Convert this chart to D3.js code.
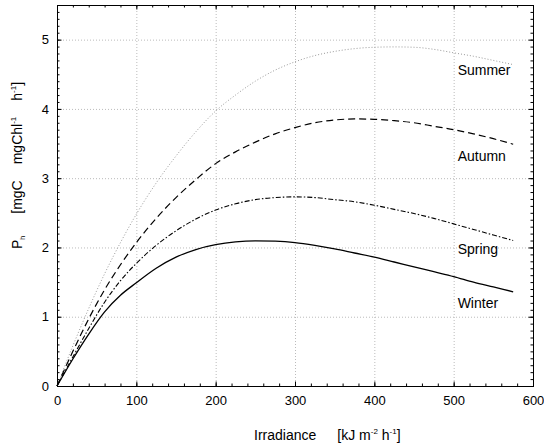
<!DOCTYPE html>
<meta charset="utf-8">
<html>
  <head>
  <title>P-I curves</title>
    <style>
      body {
        margin: 0;
        background: #fff;
        font-family: 'Liberation Sans', Arial, sans-serif;
      }
      .tick text {
        font-size: 13px;
        fill: #000;
      }
      .grid line {
        stroke: #bbb;
        stroke-dasharray: 1,2;
      }
      .season {
        font-size: 14px;
        fill: #000;
      }
      .title {
        font-size: 14px;
        fill: #000;
      }
    </style>
  </head>
  <body>
<div id="chart"></div>

<script src="https://cdn.jsdelivr.net/npm/d3@7"></script>
<script>

// irradiance (kJ m-2 h-1) where the curves were read
var irradiance = [0, 20, 40, 60, 80, 100, 125, 150, 175, 200, 225, 250, 275, 300,
                  325, 350, 375, 400, 425, 450, 475, 500, 525, 550, 575];

var winter = [0, 0.39, 0.75, 1.07, 1.31, 1.49, 1.70, 1.86, 1.97, 2.04, 2.08, 2.095, 2.09, 2.07,
              2.03, 1.98, 1.92, 1.86, 1.79, 1.72, 1.65, 1.58, 1.50, 1.43, 1.36];
var spring = [0, 0.42, 0.83, 1.21, 1.52, 1.77, 2.03, 2.24, 2.41, 2.54, 2.63, 2.69, 2.72, 2.73,
              2.72, 2.69, 2.66, 2.61, 2.55, 2.49, 2.42, 2.34, 2.26, 2.18, 2.10];
var autumn = [0, 0.50, 0.97, 1.39, 1.75, 2.07, 2.42, 2.72, 2.98, 3.21, 3.38, 3.52, 3.64, 3.73,
              3.80, 3.84, 3.855, 3.85, 3.83, 3.80, 3.75, 3.70, 3.64, 3.57, 3.49];
var summer = [0, 0.58, 1.12, 1.62, 2.07, 2.48, 2.93, 3.32, 3.67, 3.97, 4.20, 4.40, 4.56, 4.68,
              4.77, 4.83, 4.87, 4.89, 4.895, 4.89, 4.86, 4.81, 4.76, 4.70, 4.64];

var seasons = ["Summer", "Autumn", "Spring", "Winter"];

var xTicks = [0, 100, 200, 300, 400, 500, 600];
var yTicks = [0, 1, 2, 3, 4, 5];

var width = 544;
var height = 448;
var margin = {top: 5, right: 11, bottom: 62, left: 57};

var svg = d3.select("#chart")
  .append("svg")
    .attr("width", width)
    .attr("height", height);

var x = d3.scaleLinear().domain([0, 600]).range([margin.left, width - margin.right]);
var y = d3.scaleLinear().domain([0, 5.5]).range([height - margin.bottom, margin.top]);

// dotted grid at the major ticks
svg.append("g").attr("class", "grid")
  .selectAll("line")
  .data(xTicks.slice(1, -1)).enter()
  .append("line")
    .attr("x1", function(d) { return x(d) + 0.5; })
    .attr("x2", function(d) { return x(d) + 0.5; })
    .attr("y1", y(5.5))
    .attr("y2", y(0));

svg.append("g").attr("class", "grid")
  .selectAll("line")
  .data(yTicks.slice(1)).enter()
  .append("line")
    .attr("y1", function(d) { return y(d) + 0.5; })
    .attr("y2", function(d) { return y(d) + 0.5; })
    .attr("x1", x(0))
    .attr("x2", x(600));

// axes with inward ticks on all four sides
var xMinor = d3.range(0, 601, 20);
var yMinor = d3.range(0, 55).map(function(d) { return d / 10; });

function axisPair(axisFn, scale, major, minor, tr, labels) {
  svg.append("g")
    .attr("transform", tr)
    .call(axisFn(scale).tickValues(minor).tickSize(-2.5).tickFormat(""))
    .call(function(g) { g.select(".domain").remove(); });
  var g = svg.append("g")
    .attr("transform", tr)
    .call(axisFn(scale).tickValues(major).tickSize(-4.5)
      .tickFormat(labels ? d3.format("d") : ""));
  g.select(".domain").remove();
  return g;
}

var gx = axisPair(d3.axisBottom, x, xTicks, xMinor, "translate(0," + y(0) + ")", true);
gx.selectAll("text").attr("y", 19).attr("dy", null);
axisPair(d3.axisTop, x, xTicks, xMinor, "translate(0," + y(5.5) + ")", false);
var gy = axisPair(d3.axisLeft, y, yTicks, yMinor, "translate(" + x(0) + ",0)", true);
gy.selectAll("text").attr("x", -8);
axisPair(d3.axisRight, y, yTicks, yMinor, "translate(" + x(600) + ",0)", false);

svg.selectAll(".tick line").attr("stroke", "#000");
svg.selectAll(".tick text").style("font-family", "'Liberation Sans', Arial, sans-serif").style("font-size", "13px");

// frame
svg.append("rect")
  .attr("x", x(0) + 0.5)
  .attr("y", y(5.5) + 0.5)
  .attr("width", x(600) - x(0))
  .attr("height", y(0) - y(5.5))
  .style("fill", "none")
  .style("stroke", "#000")
  .style("stroke-width", 1);

// curves
var line = d3.line()
  .x(function(d, i) { return x(irradiance[i]); })
  .y(function(d) { return y(d); })
  .curve(d3.curveMonotoneX);

var styles = [
  {data: summer, stroke: "#999", width: 1, dash: "1,2"},
  {data: autumn, stroke: "#000", width: 1.2, dash: "7,4"},
  {data: spring, stroke: "#000", width: 1.1, dash: "5,2,1.5,2"},
  {data: winter, stroke: "#000", width: 1.3, dash: null}
];

svg.selectAll(".curve")
  .data(styles).enter()
  .append("path")
    .attr("class", "curve")
    .attr("d", function(d) { return line(d.data); })
    .style("fill", "none")
    .style("stroke", function(d) { return d.stroke; })
    .style("stroke-width", function(d) { return d.width; })
    .style("stroke-dasharray", function(d) { return d.dash; });

// season labels, placed by data coordinates
var labelY = [4.49, 3.25, 1.91, 1.12];
svg.selectAll(".season")
  .data(seasons).enter()
  .append("text")
    .attr("class", "season")
    .attr("x", x(505))
    .attr("y", function(d, i) { return y(labelY[i]); })
    .text(function(d) { return d; });

// x axis title
var xt = svg.append("text")
  .attr("class", "title")
  .attr("x", 254)
  .attr("y", 440);
xt.append("tspan").text("Irradiance");
xt.append("tspan").attr("dx", 21).text("[kJ m");
xt.append("tspan").attr("dy", -6).style("font-size", "8px").text("-2");
xt.append("tspan").attr("dy", 6).text(" h");
xt.append("tspan").attr("dy", -6).style("font-size", "8px").text("-1");
xt.append("tspan").attr("dy", 6).text("]");

// y axis title
var yt = svg.append("text")
  .attr("class", "title")
  .attr("transform", "translate(22,249) rotate(-90)");
yt.append("tspan").text("P");
yt.append("tspan").attr("dy", 3).style("font-size", "7px").text("h");
yt.append("tspan").attr("dy", -3).attr("dx", 22).text("[mgC");
yt.append("tspan").attr("dx", 16).text("mgChl");
yt.append("tspan").attr("dy", -6).style("font-size", "8px").text("-1");
yt.append("tspan").attr("dy", 6).attr("dx", 16).text("h");
yt.append("tspan").attr("dy", -6).style("font-size", "8px").text("-1");
yt.append("tspan").attr("dy", 6).text("]");

</script>
  </body>
</html>
